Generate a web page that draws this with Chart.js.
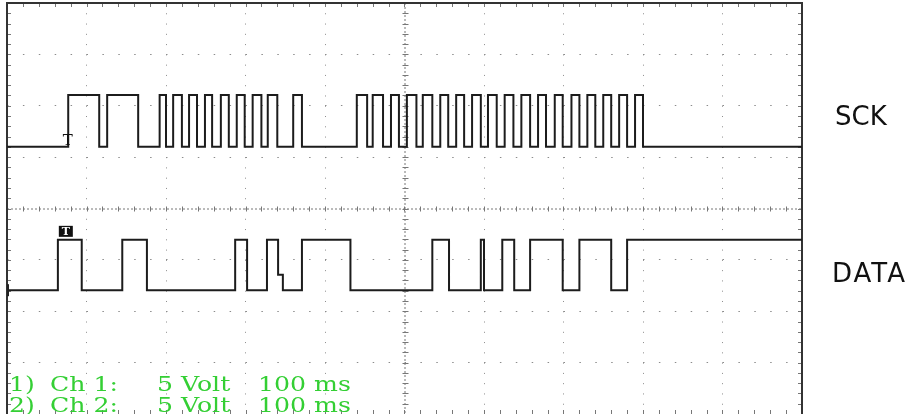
<!DOCTYPE html>
<html>
<head>
<meta charset="utf-8">
<script src="https://cdn.jsdelivr.net/npm/chart.js@4.4.0/dist/chart.umd.min.js"></script>
<style>
  html, body { margin: 0; padding: 0; background: #fff; }
  #wrap { position: relative; width: 921px; height: 414px; overflow: hidden; background: #fff; }
  #scope { position: absolute; left: 0; top: 0; }
  .sig { position: absolute; font-family: "DejaVu Sans", sans-serif; font-size: 26px; line-height: 1; color: #111; }
  .info { position: absolute; font-family: "DejaVu Serif", serif; font-size: 21px; line-height: 1; color: #34cf34;
          white-space: pre; transform: scaleX(1.2); transform-origin: left top; }
</style>
</head>
<body>
<div id="wrap">
  <canvas id="scope" width="921" height="414"></canvas>
  <div class="sig" style="left:835px; top:103px;">SCK</div>
  <div class="sig" style="left:832px; top:260px; letter-spacing:2px;">DATA</div>
  <div class="info" style="left:9px; top:374px;">1)</div>
  <div class="info" style="left:50px; top:374px;">Ch 1:</div>
  <div class="info" style="left:157px; top:374px;">5 Volt</div>
  <div class="info" style="left:258px; top:374px;">100 ms</div>
  <div class="info" style="left:9px; top:395px;">2)</div>
  <div class="info" style="left:50px; top:395px;">Ch 2:</div>
  <div class="info" style="left:157px; top:395px;">5 Volt</div>
  <div class="info" style="left:258px; top:395px;">100 ms</div>
</div>
<script>
// screen: 10 div x 100 ms, 8 div x 5 V
const timeRange = [0, 1000];
const voltRange = [-20, 20];
const triggerTime = 74;

// SCK: starts low, every edge toggles the level (ms)
const sckEdges = [77, 116, 126, 165, 192, 200, 209, 220, 229, 239, 249, 258, 269, 279,
  289, 299, 309, 320, 328, 340, 360, 371, 440, 453, 460, 473, 483, 493, 503, 515,
  523, 535, 545, 555, 565, 575, 585, 596, 605, 616, 626, 637, 647, 658, 668, 678,
  689, 699, 710, 720, 730, 740, 750, 760, 770, 780, 790, 800];
const sckLow = 0;
const sckHigh = 5.05;
const sckGround = 6.0;

// DATA: level (V) from each time on
const dataTimes = [0, 64, 94, 145, 176, 287, 302, 327, 341, 347, 371, 432, 535, 556,
  596, 600, 623, 638, 658, 699, 720, 760, 780];
const dataLevels = [0, 4.9, 0, 4.9, 0, 4.9, 0, 4.9, 1.5, 0, 4.9, 0, 4.9, 0,
  4.9, 0, 4.9, 0, 4.9, 0, 4.9, 0, 4.9];
const dataGround = -7.95;

const sckPoints = [{ x: timeRange[0], y: sckGround + sckLow }];
let high = false;
sckEdges.forEach(t => {
  high = !high;
  sckPoints.push({ x: t, y: sckGround + (high ? sckHigh : sckLow) });
});
sckPoints.push({ x: timeRange[1], y: sckGround + (high ? sckHigh : sckLow) });

const dataPoints = dataTimes.map((t, i) => ({ x: t, y: dataGround + dataLevels[i] }));
dataPoints.push({ x: timeRange[1], y: dataGround + dataLevels[dataLevels.length - 1] });

const gridColor = '#8c8c8c';

// frame, border ticks, centre cross and trigger markers
const scopeDecor = {
  id: 'scopeDecor',
  beforeDatasetsDraw(chart) {
    const { ctx, chartArea: a, scales: { x, y } } = chart;
    const minorX = (x.getPixelForValue(100) - x.getPixelForValue(0)) / 5;
    const minorY = (y.getPixelForValue(0) - y.getPixelForValue(5)) / 5;
    const cx = x.getPixelForValue(500);
    const cy = y.getPixelForValue(0);
    ctx.save();
    ctx.strokeStyle = '#777';
    ctx.lineWidth = 1;
    ctx.setLineDash([2, 2]);
    ctx.beginPath();
    ctx.moveTo(cx + 0.5, a.top); ctx.lineTo(cx + 0.5, a.bottom);
    ctx.moveTo(a.left, cy + 0.5); ctx.lineTo(a.right, cy + 0.5);
    ctx.stroke();
    ctx.setLineDash([]);
    ctx.beginPath();
    for (let px = a.left; px <= a.right + 0.5; px += minorX) {
      const p = Math.round(px) + 0.5;
      ctx.moveTo(p, cy - 2); ctx.lineTo(p, cy + 3);
      ctx.moveTo(p, a.top); ctx.lineTo(p, a.top + 4);
      ctx.moveTo(p, a.bottom - 4); ctx.lineTo(p, a.bottom);
    }
    for (let py = a.top; py <= a.bottom + 0.5; py += minorY) {
      const p = Math.round(py) + 0.5;
      ctx.moveTo(cx - 2, p); ctx.lineTo(cx + 4, p);
      ctx.moveTo(a.left, p); ctx.lineTo(a.left + 4, p);
      ctx.moveTo(a.right - 4, p); ctx.lineTo(a.right, p);
    }
    ctx.stroke();
    // frame
    ctx.strokeStyle = '#333';
    ctx.lineWidth = 2;
    ctx.beginPath();
    ctx.moveTo(a.left, a.bottom); ctx.lineTo(a.left, a.top);
    ctx.lineTo(a.right, a.top); ctx.lineTo(a.right, a.bottom);
    ctx.stroke();
    ctx.restore();
  },
  afterDatasetsDraw(chart) {
    const { ctx, scales: { x, y } } = chart;
    const tx = x.getPixelForValue(triggerTime);
    ctx.save();
    // channel 1 trigger mark
    ctx.fillStyle = '#111';
    ctx.font = '15px "DejaVu Serif"';
    ctx.textAlign = 'center';
    ctx.textBaseline = 'bottom';
    ctx.fillText('T', tx + 2, y.getPixelForValue(sckGround) + 2);
    // channel 2 trigger mark
    const ry = y.getPixelForValue(dataGround + dataLevels[1]);
    ctx.fillStyle = '#111';
    ctx.fillRect(tx - 7, ry - 14, 14, 11);
    ctx.fillStyle = '#fff';
    ctx.font = 'bold 11px "DejaVu Serif"';
    ctx.textBaseline = 'middle';
    ctx.fillText('T', tx, ry - 8);
    // channel 2 ground mark
    const gy = y.getPixelForValue(dataGround);
    ctx.fillStyle = '#222';
    ctx.fillRect(x.getPixelForValue(0), gy - 6, 2, 12);
    ctx.restore();
  }
};

new Chart(document.getElementById('scope'), {
  type: 'line',
  data: {
    datasets: [
      { label: 'SCK', data: sckPoints, stepped: true, borderColor: '#1c1c1c', borderWidth: 2 },
      { label: 'DATA', data: dataPoints, stepped: true, borderColor: '#1c1c1c', borderWidth: 2 }
    ]
  },
  options: {
    responsive: false,
    animation: false,
    layout: { padding: { left: 7, right: 119, top: 3, bottom: 0 } },
    elements: { point: { radius: 0 }, line: { tension: 0 } },
    plugins: { legend: { display: false }, tooltip: { enabled: false } },
    scales: {
      x: {
        type: 'linear', min: timeRange[0], max: timeRange[1],
        ticks: { display: false, stepSize: 100 },
        grid: {
          drawTicks: false, lineWidth: 1,
          color: c => ([0, 500, 1000].includes(c.tick.value) ? 'rgba(0,0,0,0)' : gridColor)
        },
        border: { display: false, dash: [1, 9.275] }
      },
      y: {
        type: 'linear', min: voltRange[0], max: voltRange[1],
        ticks: { display: false, stepSize: 5 },
        grid: {
          drawTicks: false, lineWidth: 1,
          color: c => ([-20, 0, 20].includes(c.tick.value) ? 'rgba(0,0,0,0)' : gridColor)
        },
        border: { display: false, dash: [1.5, 14.4] }
      }
    }
  },
  plugins: [scopeDecor]
});
</script>
</body>
</html>
